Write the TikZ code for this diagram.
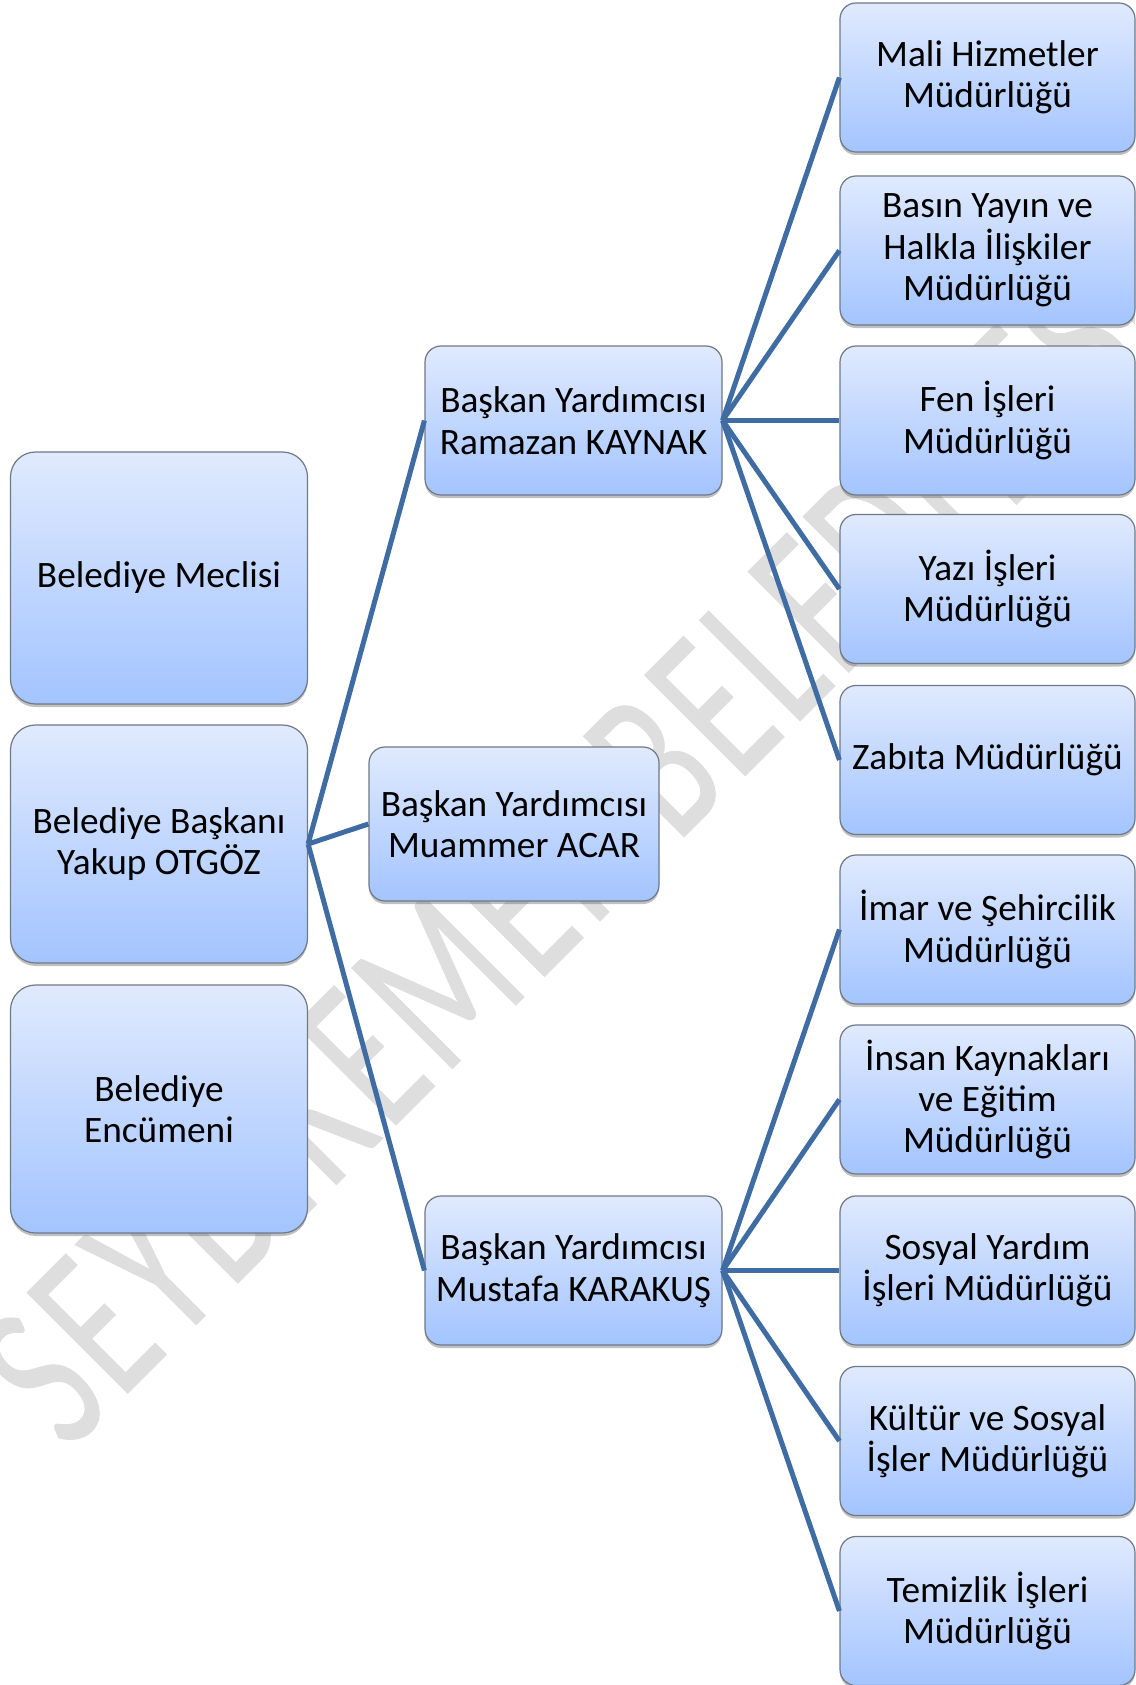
\documentclass[tikz,border=0pt]{standalone}
\usepackage{fontspec}
\setmainfont{Carlito}
\newfontfamily\wmfont[FakeStretch=0.66,FakeBold=0.35,LetterSpace=3]{Carlito}
\usepackage{xcolor}
\usetikzlibrary{shadows}
\definecolor{boxtop}{HTML}{E0EAFE}
\definecolor{boxmid}{HTML}{C4D8FF}
\definecolor{boxbot}{HTML}{A3C4FF}
\definecolor{boxline}{HTML}{6F7987}
\definecolor{hatline}{HTML}{3F6DA3}
\definecolor{wmgray}{HTML}{DEDEDE}
\tikzset{
    orgbox/.style={draw=boxline, line width=1.2pt, top color=boxtop, middle color=boxmid, bottom color=boxbot,
        rounded corners=16pt, inner sep=0pt, align=center, font=\fontsize{37.3}{41.4}\selectfont,
        drop shadow={shadow xshift=0pt, shadow yshift=-3pt, opacity=0.35, fill=black!70}},
    bigbox/.style={orgbox, rounded corners=25pt, minimum width=297pt},
    midbox/.style={orgbox, minimum width=297pt, minimum height=149pt},
    mudbox/.style={orgbox, minimum width=295pt, minimum height=149pt},
    hat/.style={hatline, line width=5pt}
}
\begin{document}
\begin{tikzpicture}[x=1pt, y=-1pt]
    \useasboundingbox (0,0) rectangle (1135,1685);
    \fill[white] (0,0) rectangle (1135,1685);

    % filigran
    \begin{scope}
    \clip (0,0) rectangle (1135,1685);
    \node[anchor=base west, rotate=45, inner sep=0pt, text=wmgray, font=\wmfont\fontsize{222}{240}\selectfont] (filigran) at (68,1453) {SEYDİKEMER BELEDİYESİ};
    \end{scope}

    % sol sutun
    \node[bigbox, minimum height=252pt] (meclis) at (159,578) {Belediye Meclisi};
    \node[bigbox, minimum height=238pt] (baskan) at (159,844) {Belediye Başkanı\\Yakup OTGÖZ};
    \node[bigbox, minimum height=248pt] (encumen) at (159,1109) {Belediye\\Encümeni};

    % baskan yardimcilari
    \node[midbox] (yrdA) at (573.5,420.5) {Başkan Yardımcısı\\Ramazan KAYNAK};
    \node[midbox, minimum width=290pt, minimum height=154pt] (yrdB) at (514,824) {Başkan Yardımcısı\\Muammer ACAR};
    \node[midbox] (yrdC) at (573.5,1270.5) {Başkan Yardımcısı\\Mustafa KARAKUŞ};

    % mudurlukler
    \node[mudbox] (mudA) at (987.5,77.5) {Mali Hizmetler\\Müdürlüğü};
    \node[mudbox] (mudB) at (987.5,250.5) {Basın Yayın ve\\Halkla İlişkiler\\Müdürlüğü};
    \node[mudbox] (mudC) at (987.5,420.5) {Fen İşleri\\Müdürlüğü};
    \node[mudbox] (mudD) at (987.5,589) {Yazı İşleri\\Müdürlüğü};
    \node[mudbox] (mudE) at (987.5,760) {Zabıta Müdürlüğü};
    \node[mudbox] (mudF) at (987.5,929.5) {İmar ve Şehircilik\\Müdürlüğü};
    \node[mudbox] (mudG) at (987.5,1099.5) {İnsan Kaynakları\\ve Eğitim\\Müdürlüğü};
    \node[mudbox] (mudH) at (987.5,1270.5) {Sosyal Yardım\\İşleri Müdürlüğü};
    \node[mudbox] (mudI) at (987.5,1441) {Kültür ve Sosyal\\İşler Müdürlüğü};
    \node[mudbox] (mudJ) at (987.5,1611) {Temizlik İşleri\\Müdürlüğü};

    % baglantilar
    \foreach \y in {yrdA,yrdB,yrdC}
        \draw[hat] (baskan.east) -- (\y.west);
    \foreach \m in {mudA,mudB,mudC,mudD,mudE}
        \draw[hat] (yrdA.east) -- (\m.west);
    \foreach \m in {mudF,mudG,mudH,mudI,mudJ}
        \draw[hat] (yrdC.east) -- (\m.west);
\end{tikzpicture}
\end{document}
